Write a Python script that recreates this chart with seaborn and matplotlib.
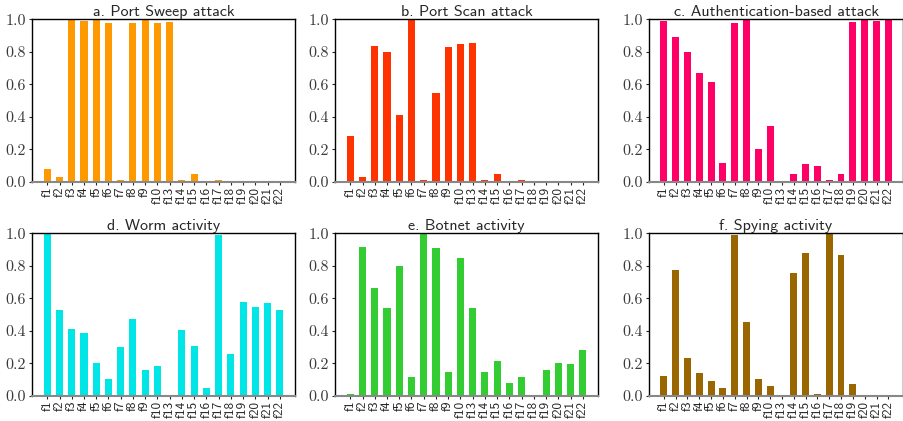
import matplotlib
matplotlib.use("Agg")
import seaborn as sns
from matplotlib import pyplot as plt

# --- data ---
features = ["f1", "f2", "f3", "f4", "f5", "f6", "f7", "f8", "f9", "f10",
            "f13", "f14", "f15", "f16", "f17", "f18", "f19", "f20", "f21", "f22"]

port_sweep = [0.076, 0.029, 1.0, 0.99, 1.0, 0.977, 0.008, 0.977, 1.0, 0.977,
              0.984, 0.01, 0.047, 0.002, 0.01, 0.002, 0.002, 0.002, 0.002, 0.002]
port_scan = [0.281, 0.029, 0.836, 0.80, 0.41, 1.0, 0.01, 0.546, 0.83, 0.848,
             0.854, 0.01, 0.047, 0.002, 0.01, 0.002, 0.002, 0.002, 0.002, 0.002]
auth_based = [0.99, 0.891, 0.80, 0.67, 0.616, 0.115, 0.977, 1.0, 0.201, 0.343,
              0.002, 0.047, 0.109, 0.097, 0.01, 0.047, 0.984, 1.0, 0.99, 1.0]
worm = [1.0, 0.529, 0.412, 0.387, 0.202, 0.103, 0.30, 0.473, 0.158, 0.183,
        0.002, 0.405, 0.307, 0.049, 0.992, 0.257, 0.578, 0.547, 0.572, 0.529]
botnet = [0.01, 0.918, 0.665, 0.541, 0.80, 0.115, 1.0, 0.912, 0.146, 0.85,
          0.541, 0.146, 0.214, 0.078, 0.115, 0.002, 0.158, 0.202, 0.195, 0.282]
spying = [0.121, 0.776, 0.233, 0.14, 0.09, 0.047, 0.992, 0.455, 0.103, 0.06,
          0.002, 0.757, 0.881, 0.01, 1.0, 0.868, 0.074, 0.002, 0.002, 0.002]

titles = ["a. Port Sweep attack", "b. Port Scan attack", "c. Authentication-based attack",
          "d. Worm activity", "e. Botnet activity", "f. Spying activity"]
series = [port_sweep, port_scan, auth_based, worm, botnet, spying]
colors = ["#ff9900", "#ff3300", "#ff0066", "#00e5e5", "#33cc33", "#996600"]

sns.set_style("ticks")
plt.rcParams["font.family"] = ["cmss10", "DejaVu Sans"]
plt.rcParams["axes.unicode_minus"] = False

fig = plt.figure(figsize=(9.04, 4.21), dpi=100)

lefts = [0.0354, 0.3706, 0.718]
widths = [0.291, 0.291, 0.281]
bottoms = [0.5684, 0.0601]
height = 0.3855

for i, (title, vals, col) in enumerate(zip(titles, series, colors)):
    row, c = divmod(i, 3)
    ax = fig.add_axes([lefts[c], bottoms[row], widths[c], height])
    sns.barplot(x=features, y=vals, color=col, saturation=1, width=0.58,
                linewidth=0, ax=ax)
    ax.set_xlim(-1.25, 20.25)
    ax.set_ylim(0, 1.0)
    ax.set_yticks([0.0, 0.2, 0.4, 0.6, 0.8, 1.0])
    ax.set_yticklabels(["%.1f" % v for v in ax.get_yticks()],
                       fontfamily="cmr10", fontsize=11.5, color="#3a3a3a")
    ax.tick_params(axis="y", length=2.5, width=0.8, pad=2)
    ax.tick_params(axis="x", labelsize=9.5, rotation=90, length=2.5, width=0.8, pad=1)
    ax.set_title(title, fontsize=11.5, pad=1.5)
    ax.set_xlabel("")
    ax.set_ylabel("")
    for side in ["top", "left", "right"]:
        ax.spines[side].set_color("black")
        ax.spines[side].set_linewidth(1.0)
    ax.spines["bottom"].set_color("#888888")
    ax.spines["bottom"].set_linewidth(1.5)

fig.savefig("out.png", dpi=100)
